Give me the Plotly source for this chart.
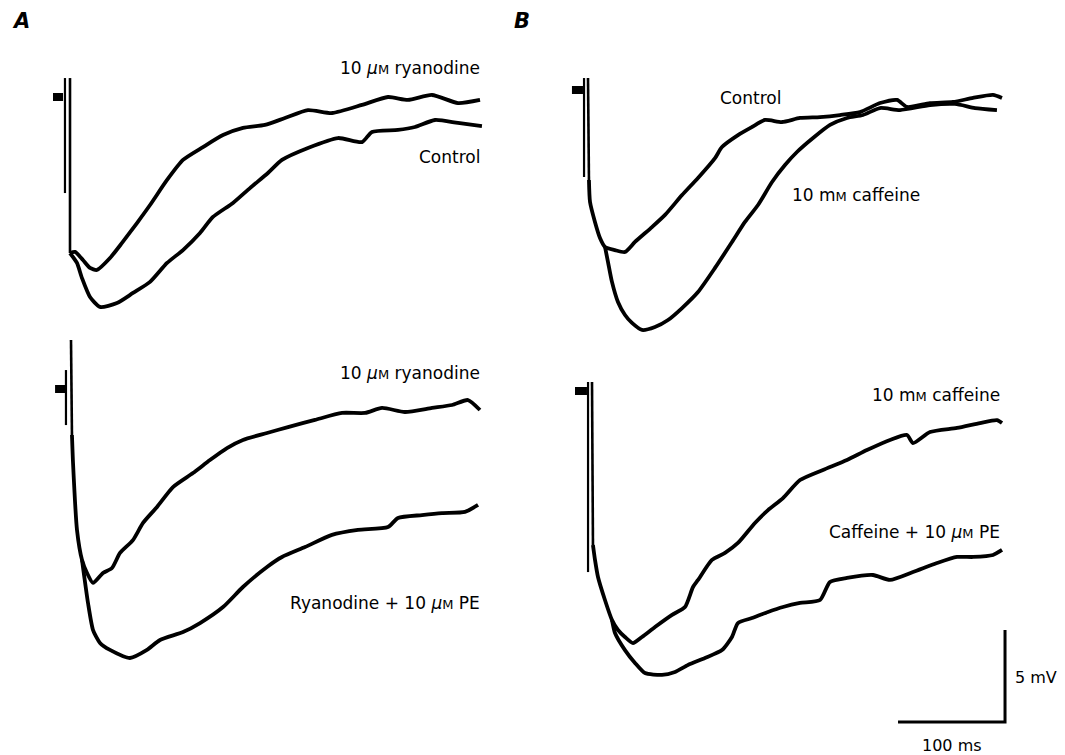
import plotly.graph_objects as go

W, H = 1065, 755

# ---------------- Panel A, top: 10 uM ryanodine vs Control ----------------
a_top_stub_t = [-15.9, -6.5]
a_top_stub_v = [0.0, 0.0]
a_top_art_t = [-4.7, -4.7]
a_top_art_v = [1.03, -5.22]
a_top_art2_t = [0, 0]
a_top_art2_v = [1.03, -8.48]
a_top_ryan_t = [0, 4.7, 12.1, 18.7, 25.2, 37.4, 48.6, 62.6, 74.8, 90.7, 105.6, 124.3, 143.0,
                161.7, 182.2, 200.9, 222.4, 244.9, 272.9, 297.2, 315.9, 338.3, 362.6, 383.2]
a_top_ryan_v = [-8.48, -8.42, -8.86, -9.29, -9.40, -8.75, -7.93, -6.85, -5.87, -4.51, -3.42,
                -2.72, -2.07, -1.68, -1.52, -1.14, -0.71, -0.87, -0.43, 0.0, -0.16, 0.11, -0.33, -0.16]
a_top_ctrl_t = [0, 6.5, 11.2, 18.7, 28.0, 43.9, 58.9, 74.8, 90.7, 105.6, 121.5, 133.6, 152.3, 168.2,
                185.0, 198.1, 222.4, 250.5, 272.9, 282.2, 306.5, 322.4, 341.1, 362.6, 385.0]
a_top_ctrl_v = [-8.48, -9.02, -9.84, -10.87, -11.41, -11.20, -10.65, -10.05, -9.02, -8.32, -7.39,
                -6.52, -5.76, -4.95, -4.13, -3.42, -2.77, -2.23, -2.45, -1.90, -1.79, -1.63, -1.25,
                -1.41, -1.58]

# ---------------- Panel A, bottom: ryanodine vs ryanodine + PE ----------------
a_bot_stub_t = [-14.9, -5.6]
a_bot_stub_v = [0.0, 0.0]
a_bot_art_t = [-4.7, -4.7]
a_bot_art_v = [1.03, -1.96]
a_bot_art2_t = [0, 0.9]
a_bot_art2_v = [2.66, -2.5]
a_bot_ryan_t = [0.9, 1.9, 5.6, 10.3, 15.0, 20.6, 29.9, 38.3, 45.8, 57.9, 67.3, 80.4, 95.3, 114.0,
                129.9, 145.8, 160.7, 183.2, 202.8, 228.0, 253.3, 274.8, 290.7, 312.1, 337.4, 356.1,
                371.0, 382.2]
a_bot_ryan_v = [-2.5, -4.02, -7.66, -9.29, -10.0, -10.54, -10.0, -9.73, -8.91, -8.21, -7.28,
                -6.41, -5.33, -4.57, -3.86, -3.21, -2.77, -2.39, -2.07, -1.68, -1.30, -1.30, -1.03,
                -1.25, -1.03, -0.87, -0.60, -1.14]
a_bot_pe_t = [10.3, 15.9, 20.6, 27.1, 36.4, 55.1, 71.0, 83.2, 104.7, 120.6, 142.1, 160.7, 183.2,
              197.2, 218.7, 243.9, 268.2, 296.3, 305.6, 328.0, 346.7, 368.2, 380.4]
a_bot_pe_v = [-9.29, -11.63, -13.10, -13.80, -14.18, -14.62, -14.18, -13.64, -13.21, -12.72, -11.85,
              -10.76, -9.67, -9.13, -8.59, -7.93, -7.66, -7.50, -7.01, -6.85, -6.74, -6.68, -6.30]

# ---------------- Panel B, top: Control vs 10 mM caffeine ----------------
b_top_stub_t = [-15.0, -4.7]
b_top_stub_v = [0.0, 0.0]
b_top_art_t = [-3.7, -3.7]
b_top_art_v = [0.65, -4.73]
b_top_art2_t = [0, 0.9]
b_top_art2_v = [0.65, -4.89]
b_top_ctrl_t = [0.9, 1.9, 6.5, 11.2, 15.9, 25.2, 34.6, 43.9, 59.8, 72.0, 87.9, 102.8, 118.7,
                125.2, 140.2, 153.3, 165.4, 181.3, 198.1, 216.8, 235.5, 254.2, 272.9, 288.8, 298.1,
                319.6, 341.1, 359.8, 378.5, 386.9]
b_top_ctrl_v = [-4.89, -6.09, -7.17, -8.04, -8.53, -8.70, -8.80, -8.26, -7.45, -6.79, -5.71,
                -4.78, -3.70, -3.10, -2.45, -2.01, -1.63, -1.74, -1.52, -1.47, -1.36, -1.20, -0.71,
                -0.54, -0.92, -0.71, -0.65, -0.43, -0.27, -0.43]
b_top_caf_t = [15.9, 18.7, 22.4, 28.0, 34.6, 41.1, 50.5, 62.6, 74.8, 87.9, 102.8, 118.7, 134.6,
               146.7, 158.9, 172.0, 184.1, 195.3, 210.3, 226.2, 242.1, 257.0, 272.9, 291.6, 319.6,
               343.0, 361.7, 382.2]
b_top_caf_v = [-8.53, -9.35, -10.43, -11.52, -12.23, -12.66, -13.04, -12.88, -12.50, -11.85,
               -10.98, -9.67, -8.26, -7.17, -6.25, -5.00, -4.08, -3.37, -2.61, -1.90, -1.52, -1.36,
               -0.98, -1.09, -0.82, -0.76, -0.98, -1.09]

# ---------------- Panel B, bottom: caffeine vs caffeine + PE ----------------
b_bot_stub_t = [-15.9, -4.7]
b_bot_stub_v = [0.0, 0.0]
b_bot_art_t = [-3.7, -3.7]
b_bot_art_v = [0.49, -9.84]
b_bot_art2_t = [0, 0.9]
b_bot_art2_v = [0.49, -8.37]
b_bot_caf_t = [0.9, 2.8, 5.6, 12.1, 18.7, 24.3, 30.8, 38.3, 46.7, 58.9, 74.8, 86.9, 94.4, 99.1,
               112.1, 124.3, 136.4, 152.3, 164.5, 178.5, 194.4, 215.9, 238.3, 257.0, 278.5, 294.4,
               300.0, 315.9, 341.1, 362.6, 378.5, 383.2]
b_bot_caf_v = [-8.37, -9.18, -10.11, -11.36, -12.45, -12.99, -13.37, -13.70, -13.37, -12.83,
               -12.17, -11.74, -10.65, -10.27, -9.18, -8.80, -8.26, -7.17, -6.47, -5.82, -4.84,
               -4.29, -3.75, -3.21, -2.66, -2.39, -2.83, -2.23, -2.01, -1.74, -1.58, -1.74]
b_bot_pe_t = [18.7, 21.5, 30.8, 40.2, 49.5, 65.4, 77.6, 89.7, 105.6, 121.5, 130.8, 136.4, 149.5,
              164.5, 178.5, 194.4, 213.1, 222.4, 238.3, 262.6, 278.5, 300.0, 322.4, 341.1, 356.1,
              374.8, 383.2]
b_bot_pe_v = [-12.45, -13.15, -14.08, -14.78, -15.33, -15.43, -15.27, -14.89, -14.51, -14.08,
              -13.37, -12.61, -12.34, -12.01, -11.74, -11.52, -11.36, -10.38, -10.16, -10.00,
              -10.27, -9.84, -9.35, -9.02, -9.02, -8.91, -8.64]

# Scale bar: 100 ms, 5 mV
scale_ms = 100
scale_mv = 5
scale_origin_t = 286.0
scale_origin_v = -17.99

fig = go.Figure()


def add(t, v, xa, ya, width=3.8, smooth=True):
    line = dict(color="black", width=width)
    if smooth:
        line.update(shape="spline", smoothing=0.6)
    fig.add_trace(go.Scatter(x=t, y=v, mode="lines", xaxis=xa, yaxis=ya, line=line,
                             hoverinfo="skip", showlegend=False))


def stim(stub_t, stub_v, art_t, art_v, art2_t, art2_v, xa, ya):
    add(stub_t, stub_v, xa, ya, 8, False)
    add(art_t, art_v, xa, ya, 2.2, False)
    add(art2_t, art2_v, xa, ya, 2.6, False)


# panel A top
stim(a_top_stub_t, a_top_stub_v, a_top_art_t, a_top_art_v, a_top_art2_t, a_top_art2_v, "x", "y")
add(a_top_ctrl_t, a_top_ctrl_v, "x", "y")
add(a_top_ryan_t, a_top_ryan_v, "x", "y")
# panel A bottom
stim(a_bot_stub_t, a_bot_stub_v, a_bot_art_t, a_bot_art_v, a_bot_art2_t, a_bot_art2_v, "x2", "y2")
add(a_bot_pe_t, a_bot_pe_v, "x2", "y2")
add(a_bot_ryan_t, a_bot_ryan_v, "x2", "y2")
# panel B top
stim(b_top_stub_t, b_top_stub_v, b_top_art_t, b_top_art_v, b_top_art2_t, b_top_art2_v, "x3", "y3")
add(b_top_caf_t, b_top_caf_v, "x3", "y3")
add(b_top_ctrl_t, b_top_ctrl_v, "x3", "y3")
# panel B bottom
stim(b_bot_stub_t, b_bot_stub_v, b_bot_art_t, b_bot_art_v, b_bot_art2_t, b_bot_art2_v, "x4", "y4")
add(b_bot_pe_t, b_bot_pe_v, "x4", "y4")
add(b_bot_caf_t, b_bot_caf_v, "x4", "y4")
# scale bar
add([scale_origin_t, scale_origin_t + scale_ms, scale_origin_t + scale_ms],
    [scale_origin_v, scale_origin_v, scale_origin_v + scale_mv], "x4", "y4", 3, False)


def px_x(p):
    return p / W


def px_y(p):
    return 1 - p / H


PX_MS = 1.07   # pixels per ms
PX_MV = 18.4   # pixels per mV


def axes(x0, x1, y0, y1, xs, yb, xname):
    xr = [(x0 - xs) / PX_MS, (x1 - xs) / PX_MS]
    yr = [(yb - y1) / PX_MV, (yb - y0) / PX_MV]
    xa = dict(domain=[px_x(x0), px_x(x1)], range=xr, visible=False, fixedrange=True,
              anchor="y" + xname)
    ya = dict(domain=[px_y(y1), px_y(y0)], range=yr, visible=False, fixedrange=True,
              anchor="x" + xname)
    return xa, ya


xa1, ya1 = axes(40, 500, 55, 325, 70, 97, "")
xa2, ya2 = axes(40, 500, 330, 670, 71, 389, "2")
xa3, ya3 = axes(560, 1020, 55, 340, 588, 90, "3")
xa4, ya4 = axes(560, 1020, 370, 735, 592, 391, "4")

FONT = dict(family="DejaVu Sans", size=17, color="black")
SM = "<span style='font-size:13px'>M</span>"
MU = "<i>\u03bc</i>" + SM
MM = "m" + SM


def label(text, x, y, anchor="right", size=None):
    f = dict(FONT)
    if size:
        f["size"] = size
    return dict(text=text, x=px_x(x), y=px_y(y), xref="paper", yref="paper",
                xanchor=anchor, yanchor="middle", showarrow=False, font=f)


annotations = [
    label("<b><i>A</i></b>", 10, 21, "left", 21),
    label("<b><i>B</i></b>", 512, 21, "left", 21),
    label("10 " + MU + " ryanodine", 482, 68),
    label("Control", 482, 157),
    label("10 " + MU + " ryanodine", 482, 373),
    label("Ryanodine + 10 " + MU + " PE", 482, 603),
    label("Control", 718, 98, "left"),
    label("10 " + MM + " caffeine", 790, 195, "left"),
    label("10 " + MM + " caffeine", 1002, 395),
    label("Caffeine + 10 " + MU + " PE", 1002, 532),
    label("5 mV", 1013, 677, "left", 16),
    label("100 ms", 952, 745, "center", 16),
]

fig.update_layout(
    width=W, height=H,
    margin=dict(l=0, r=0, t=0, b=0),
    paper_bgcolor="white", plot_bgcolor="rgba(0,0,0,0)",
    xaxis=xa1, yaxis=ya1, xaxis2=xa2, yaxis2=ya2,
    xaxis3=xa3, yaxis3=ya3, xaxis4=xa4, yaxis4=ya4,
    annotations=annotations,
    showlegend=False,
)

fig.write_html("out.html", config={"displayModeBar": False})
